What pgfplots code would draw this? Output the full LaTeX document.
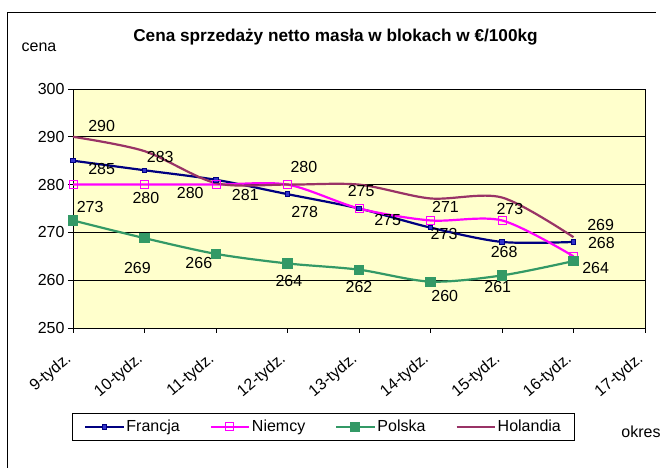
\documentclass[border=0pt]{standalone}
\usepackage{fontspec}
\setmainfont{Liberation Sans}
\usepackage{pgfplots}
\pgfplotsset{compat=1.18}
\definecolor{fr}{HTML}{000080}
\definecolor{frfill}{HTML}{3333CC}
\definecolor{de}{HTML}{FF00FF}
\definecolor{pl}{HTML}{339966}
\definecolor{nl}{HTML}{993366}
\definecolor{bg}{HTML}{FFFFCC}
\newcommand{\lbl}{\fontsize{16}{19}\selectfont}
\begin{document}
\begin{tikzpicture}[x=1pt,y=1pt]
\useasboundingbox (0,0) rectangle (665,468);
\draw[black, line width=0.8pt] (7,0) -- (7,456) -- (656,456);
\node[font=\bfseries\fontsize{17.2}{20}\selectfont] at (335.5,431) {Cena sprzedaży netto masła w blokach w €/100kg};
\node[font=\lbl] at (39,421) {cena};
\node[font=\lbl] at (641,36) {okres};
\begin{axis}[
  at={(73pt,140pt)}, anchor=south west, scale only axis,
  width=572pt, height=239pt,
  xmin=0, xmax=8, ymin=250, ymax=300,
  xtick={0,1,2,3,4,5,6,7,8},
  xticklabels={9-tydz.,10-tydz.,11-tydz.,12-tydz.,13-tydz.,14-tydz.,15-tydz.,16-tydz.,17-tydz.},
  ytick={250,260,270,280,290,300},
  /pgf/number format/assume math mode=true,
  tick align=outside, major tick length=5pt,
  xtick pos=bottom, ytick pos=left,
  axis background/.style={fill=bg},
  axis line style={black, line width=0.8pt},
  ymajorgrids, grid style={black, line width=0.6pt},
  tick style={black, line width=0.6pt},
  ticklabel style={font=\lbl},
  xticklabel style={font=\lbl, rotate=40, anchor=north east, inner xsep=14pt},
  xticklabel shift=7pt,
  clip=false,
  legend columns=4,
  legend cell align=left,
  legend style={at={(0.438,-0.414)}, anchor=center, draw=black, line width=0.8pt,
    font=\lbl, inner xsep=12pt, inner ysep=5pt,
    /tikz/every even column/.append style={column sep=28pt}},
  legend image code/.code={\draw[mark repeat=2,mark phase=2,#1] plot coordinates {(0pt,0pt) (19pt,0pt) (38pt,0pt)};},
]
\addplot[fr, line width=2.2pt, smooth, mark=square*, mark size=2.2pt, mark options={fill=frfill, draw=fr, line width=1pt}]
 coordinates {(0,285) (1,283) (2,281) (3,278) (4,275) (5,271) (6,268) (7,268)};
\addlegendentry{Francja}
\addplot[de, line width=2.2pt, smooth, mark=square, mark size=4pt, mark options={draw=de, line width=1pt}]
 coordinates {(0,280) (1,280) (2,280) (3,280) (4,275) (5,272.5) (6,272.5) (7,265)};
\addlegendentry{Niemcy}
\addplot[pl, line width=2.2pt, smooth, mark=square*, mark size=4pt, mark options={fill=pl, draw=pl}]
 coordinates {(0,272.5) (1,268.8) (2,265.5) (3,263.5) (4,262.2) (5,259.7) (6,261) (7,264)};
\addlegendentry{Polska}
\addplot[nl, line width=2.2pt, smooth]
 coordinates {(0,290) (1,287) (2,280.3) (3,280) (4,280) (5,277.1) (6,277.3) (7,269)};
\addlegendentry{Holandia}
\begin{scope}[every node/.style={font=\lbl}]
\node at (axis cs:0.40,292.3) {290};
\node at (axis cs:0.40,283.3) {285};
\node at (axis cs:0.24,275.3) {273};
\node at (axis cs:1.22,285.8) {283};
\node at (axis cs:1.02,277.3) {280};
\node at (axis cs:0.90,262.6) {269};
\node at (axis cs:1.64,278.3) {280};
\node at (axis cs:1.76,263.7) {266};
\node at (axis cs:2.41,277.8) {281};
\node at (axis cs:3.23,283.7) {280};
\node at (axis cs:3.24,274.3) {278};
\node at (axis cs:3.02,259.8) {264};
\node at (axis cs:4.03,278.7) {275};
\node at (axis cs:4.40,272.5) {275};
\node at (axis cs:4.00,258.6) {262};
\node at (axis cs:5.21,275.3) {271};
\node at (axis cs:5.19,269.7) {273};
\node at (axis cs:5.20,256.7) {260};
\node at (axis cs:6.11,275.0) {273};
\node at (axis cs:6.03,265.8) {268};
\node at (axis cs:5.94,258.6) {261};
\node at (axis cs:7.38,271.5) {269};
\node at (axis cs:7.39,267.7) {268};
\node at (axis cs:7.31,262.5) {264};
\end{scope}
\end{axis}
\end{tikzpicture}
\end{document}
